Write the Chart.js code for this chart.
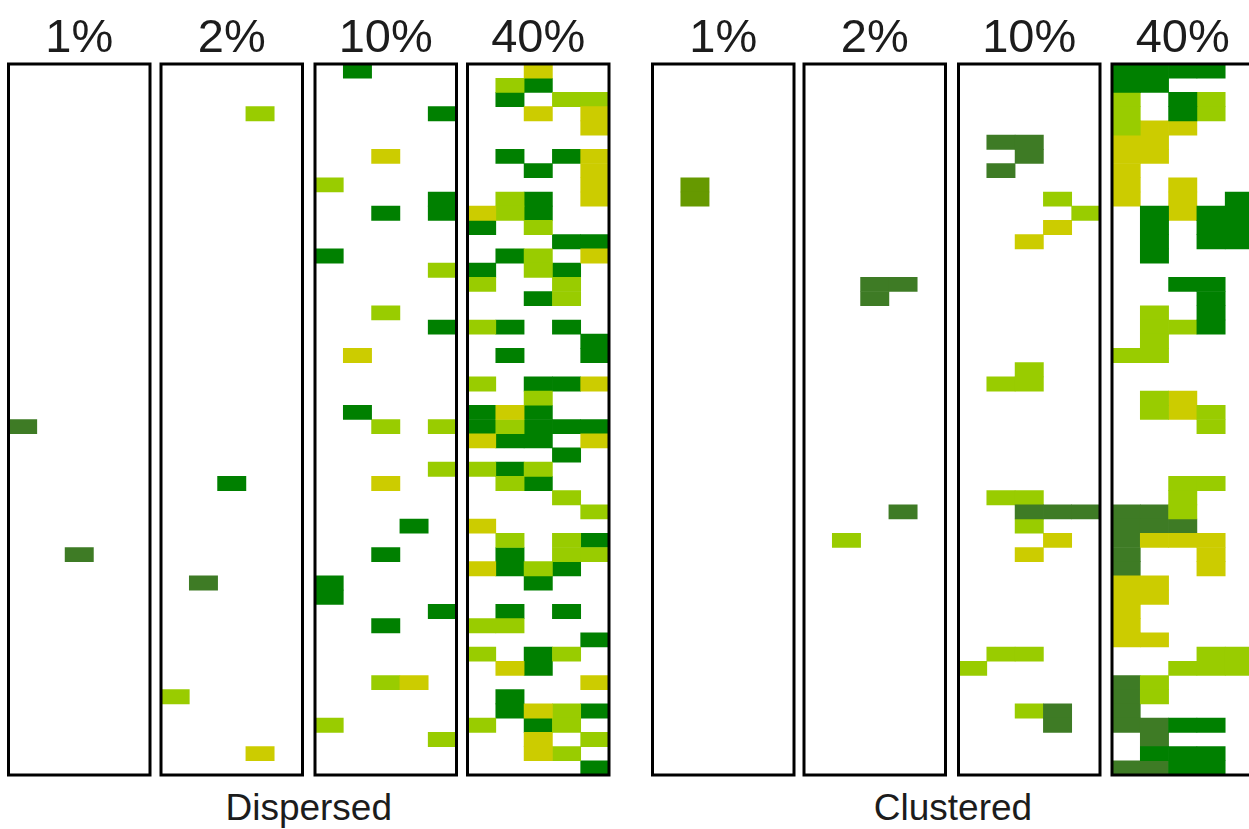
<!DOCTYPE html>
<html><head><meta charset="utf-8">
<script src="https://cdn.jsdelivr.net/npm/chart.js@4.4.1/dist/chart.umd.min.js"></script>
<style>
html,body{margin:0;padding:0;background:#fff;overflow:hidden;}
#root{position:relative;width:1249px;height:829px;overflow:hidden;font-family:'Liberation Sans',Arial,sans-serif;color:#1c1c1c;}
.panel{position:absolute;}
.plabel{position:absolute;top:12px;width:170px;text-align:center;font-size:47px;line-height:47px;white-space:nowrap;}
.glabel{position:absolute;top:789px;width:400px;text-align:center;font-size:37px;line-height:37px;white-space:nowrap;}
</style></head><body><div id="root"></div>
<script>
// ---- data ----
const panelLabels = ['1%', '2%', '10%', '40%'];
const groupLabels = ['Dispersed', 'Clustered'];
const columnLabels = ['0', '1', '2', '3', '4'];
const rowCount = 50;
// cell codes: G green, O olive, L lime, Y yellow, M medium green, . empty
const dispersed1 = [
'.....','.....','.....','.....','.....','.....','.....','.....','.....','.....',
'.....','.....','.....','.....','.....','.....','.....','.....','.....','.....',
'.....','.....','.....','.....','.....','O....','.....','.....','.....','.....',
'.....','.....','.....','.....','..O..','.....','.....','.....','.....','.....',
'.....','.....','.....','.....','.....','.....','.....','.....','.....','.....'];
const dispersed2 = [
'.....','.....','.....','...L.','.....','.....','.....','.....','.....','.....',
'.....','.....','.....','.....','.....','.....','.....','.....','.....','.....',
'.....','.....','.....','.....','.....','.....','.....','.....','.....','..G..',
'.....','.....','.....','.....','.....','.....','.O...','.....','.....','.....',
'.....','.....','.....','.....','L....','.....','.....','.....','...Y.','.....'];
const dispersed10 = [
'.G...','.....','.....','....G','.....','.....','..Y..','.....','L....','....G',
'..G.G','.....','.....','G....','....L','.....','.....','..L..','....G','.....',
'.Y...','.....','.....','.....','.G...','..L.L','.....','.....','....L','..Y..',
'.....','.....','...G.','.....','..G..','.....','G....','G....','....G','..G..',
'.....','.....','.....','..LY.','.....','.....','L....','....L','.....','.....'];
const dispersed40 = [
'..Y..','.LG..','.G.LL','..Y.Y','....Y','.....','.G.GY','..G.Y','....Y','.LG.Y',
'YLG..','G.L..','...GG','.GL.Y','G.LG.','L..L.','..GL.','.....','LG.G.','....G',
'.G..G','.....','L.GGY','..L..','GYG..','GLGGG','YGG.Y','...G.','LGL..','.LG..',
'...L.','....L','Y....','.L.LG','.G.LL','YGLG.','..G..','.....','.G.G.','LL...',
'....G','L.GL.','.YG..','....Y','.G...','.GYLG','L.GL.','..Y.L','..YL.','....G'];
const clustered1 = [
'.....','.....','.....','.....','.....','.....','.....','.....','.M...','.M...',
'.....','.....','.....','.....','.....','.....','.....','.....','.....','.....',
'.....','.....','.....','.....','.....','.....','.....','.....','.....','.....',
'.....','.....','.....','.....','.....','.....','.....','.....','.....','.....',
'.....','.....','.....','.....','.....','.....','.....','.....','.....','.....'];
const clustered2 = [
'.....','.....','.....','.....','.....','.....','.....','.....','.....','.....',
'.....','.....','.....','.....','.....','..OO.','..O..','.....','.....','.....',
'.....','.....','.....','.....','.....','.....','.....','.....','.....','.....',
'.....','...O.','.....','.L...','.....','.....','.....','.....','.....','.....',
'.....','.....','.....','.....','.....','.....','.....','.....','.....','.....'];
const clustered10 = [
'.....','.....','.....','.....','.....','.OO..','..O..','.O...','.....','...L.',
'....L','...Y.','..Y..','.....','.....','.....','.....','.....','.....','.....',
'.....','..L..','.LL..','.....','.....','.....','.....','.....','.....','.....',
'.LL..','..OOO','..L..','...Y.','..Y..','.....','.....','.....','.....','.....',
'.....','.LL..','L....','.....','.....','..LO.','...O.','.....','.....','.....'];
const clustered40 = [
'GGGG.','GG...','L.GL.','L.GL.','LYY..','YY...','YY...','Y....','Y.Y..','Y.Y.G',
'.GYGG','.G.GG','.G.GG','.G...','.....','..GG.','...G.','.L.G.','.LLG.','.L...',
'LL...','.....','.....','.LY..','.LYL.','...L.','.....','.....','.....','..LL.',
'..L..','OOL..','OOO..','OYYY.','O..Y.','O..Y.','YY...','YY...','Y....','Y....',
'YY...','...LL','..LLL','OL...','OL...','O....','OOGG.','.O...','.GGG.','OOGG.'];
const panels = [dispersed1, dispersed2, dispersed10, dispersed40, clustered1, clustered2, clustered10, clustered40];

// ---- styles / layout ----
const colorMap = { G: '#008000', O: '#3e7b25', L: '#99cc00', Y: '#cccc00', M: '#669900' };
const gridLefts = [8.5, 161, 315, 467.5, 652.5, 804, 958.5, 1112];
const gridW = 141.5, gridTop = 64, gridH = 711, pad = 6;

const framePlugin = {
  id: 'frame',
  afterDatasetsDraw(chart) {
    const { ctx, chartArea: a } = chart;
    ctx.save();
    ctx.strokeStyle = '#000';
    ctx.lineWidth = 3;
    ctx.strokeRect(a.left, a.top, a.right - a.left, a.bottom - a.top);
    ctx.restore();
  }
};

const root = document.getElementById('root');
panels.forEach((grid, p) => {
  const gl = gridLefts[p];
  const cl = Math.floor(gl) - pad;
  const cw = Math.ceil(gridW) + 2 * pad + 1;
  const ch = gridH + 2 * pad;
  const div = document.createElement('div');
  div.className = 'panel';
  div.style.left = cl + 'px';
  div.style.top = (gridTop - pad) + 'px';
  div.style.width = cw + 'px';
  div.style.height = ch + 'px';
  const cv = document.createElement('canvas');
  cv.width = cw; cv.height = ch;
  cv.style.width = cw + 'px'; cv.style.height = ch + 'px';
  div.appendChild(cv);
  root.appendChild(div);

  const byColor = {};
  grid.forEach((rowStr, r) => {
    for (let c = 0; c < rowStr.length; c++) {
      const code = rowStr[c];
      if (code === '.') continue;
      (byColor[code] = byColor[code] || []).push({ x: columnLabels[c], y: [r, r + 1] });
    }
  });
  const datasets = Object.keys(byColor).map(code => ({
    label: code,
    data: byColor[code],
    backgroundColor: colorMap[code],
    borderWidth: 0,
    borderSkipped: false,
    grouped: false,
    barPercentage: 1,
    categoryPercentage: 1
  }));

  const leftPad = gl - cl;
  new Chart(cv, {
    type: 'bar',
    data: { labels: columnLabels, datasets },
    options: {
      responsive: false,
      animation: false,
      events: [],
      layout: { padding: { left: leftPad, right: cw - leftPad - gridW, top: pad, bottom: pad } },
      plugins: { legend: { display: false }, tooltip: { enabled: false }, title: { display: false } },
      scales: {
        x: { type: 'category', labels: columnLabels, display: false, offset: true, grid: { display: false } },
        y: { type: 'linear', min: 0, max: rowCount, reverse: true, display: false, grid: { display: false } }
      }
    },
    plugins: [framePlugin]
  });

  const lab = document.createElement('div');
  lab.className = 'plabel';
  lab.textContent = panelLabels[p % 4];
  lab.style.left = (gl + gridW / 2 - 85) + 'px';
  root.appendChild(lab);
});

groupLabels.forEach((g, i) => {
  const l = gridLefts[i * 4], r = gridLefts[i * 4 + 3] + gridW;
  const d = document.createElement('div');
  d.className = 'glabel';
  d.textContent = g;
  d.style.left = ((l + r) / 2 - 200) + 'px';
  root.appendChild(d);
});
</script>
</body></html>
